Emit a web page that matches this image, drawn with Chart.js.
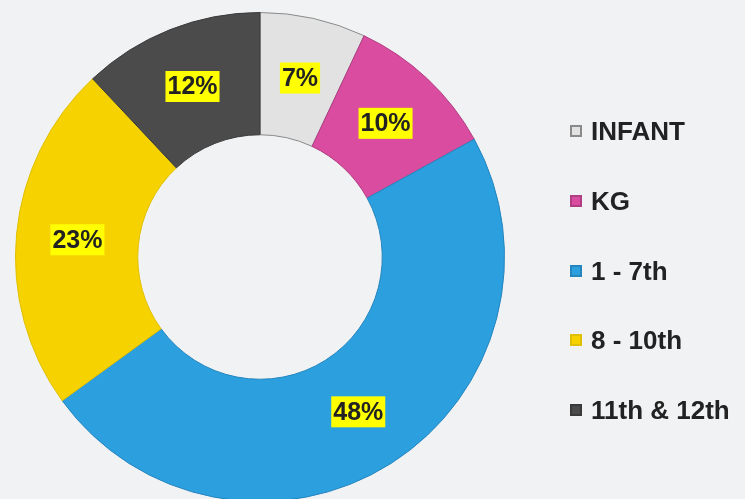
<!DOCTYPE html>
<html>
<head>
<meta charset="utf-8">
<script src="https://cdn.jsdelivr.net/npm/chart.js@4"></script>
<style>
  html,body{margin:0;padding:0;width:745px;height:499px;overflow:hidden;background:#f1f2f4;}
  #wrap{position:absolute;left:0;top:0;width:745px;height:515px;}
  #legend{position:absolute;left:570px;top:0;font-family:"Liberation Sans",Arial,sans-serif;font-weight:bold;font-size:26px;color:#222;}
  .item{position:absolute;left:0;white-space:nowrap;display:flex;align-items:center;height:30px;}
  .box{width:8px;height:8px;border:2px solid;margin-right:9px;}
</style>
</head>
<body>
<div id="wrap"><canvas id="c" width="745" height="515"></canvas></div>
<div id="legend"></div>
<script>
// categories and shares (percent)
const LABELS = ['INFANT','KG','1 - 7th','8 - 10th','11th & 12th'];
const VALUES = [7, 10, 48, 23, 12];
const COLORS = ['#e2e2e2','#d94c9f','#2c9fdf','#f6d200','#4b4b4b'];
const BORDERS = ['#8a8a8a','#b03e82','#2585bd','#e0bf00','#3a3a3a'];
const LEGEND_Y = [131, 201, 271, 340, 410];

// legend (html)
const lg = document.getElementById('legend');
LABELS.forEach((l,i)=>{
  const d = document.createElement('div');
  d.className = 'item';
  d.style.top = (LEGEND_Y[i]-15)+'px';
  d.innerHTML = `<span class="box" style="background:${COLORS[i]};border-color:${BORDERS[i]}"></span>${l}`;
  lg.appendChild(d);
});

// yellow percentage tags on each slice
const tagPlugin = {
  id:'tags',
  afterDatasetsDraw(chart){
    const ctx = chart.ctx;
    const meta = chart.getDatasetMeta(0);
    ctx.save();
    ctx.font = 'bold 25px "Liberation Sans", Arial, sans-serif';
    ctx.textAlign = 'center';
    ctx.textBaseline = 'middle';
    meta.data.forEach((arc,i)=>{
      const p = arc.tooltipPosition();
      const t = VALUES[i]+'%';
      const w = ctx.measureText(t).width + 4;
      const h = 31;
      ctx.fillStyle = '#ffff00';
      ctx.fillRect(p.x - w/2, p.y - h/2, w, h);
      ctx.fillStyle = '#222';
      ctx.fillText(t, p.x, p.y + 1);
    });
    ctx.restore();
  }
};

new Chart(document.getElementById('c'),{
  type:'doughnut',
  data:{labels:LABELS,datasets:[{data:VALUES,backgroundColor:COLORS,borderColor:BORDERS,borderWidth:1}]},
  options:{
    responsive:false,
    animation:false,
    cutout:'50%',
    layout:{padding:{left:15,right:240,top:12,bottom:13}},
    plugins:{legend:{display:false},tooltip:{enabled:false}}
  },
  plugins:[tagPlugin]
});
</script>
</body>
</html>
